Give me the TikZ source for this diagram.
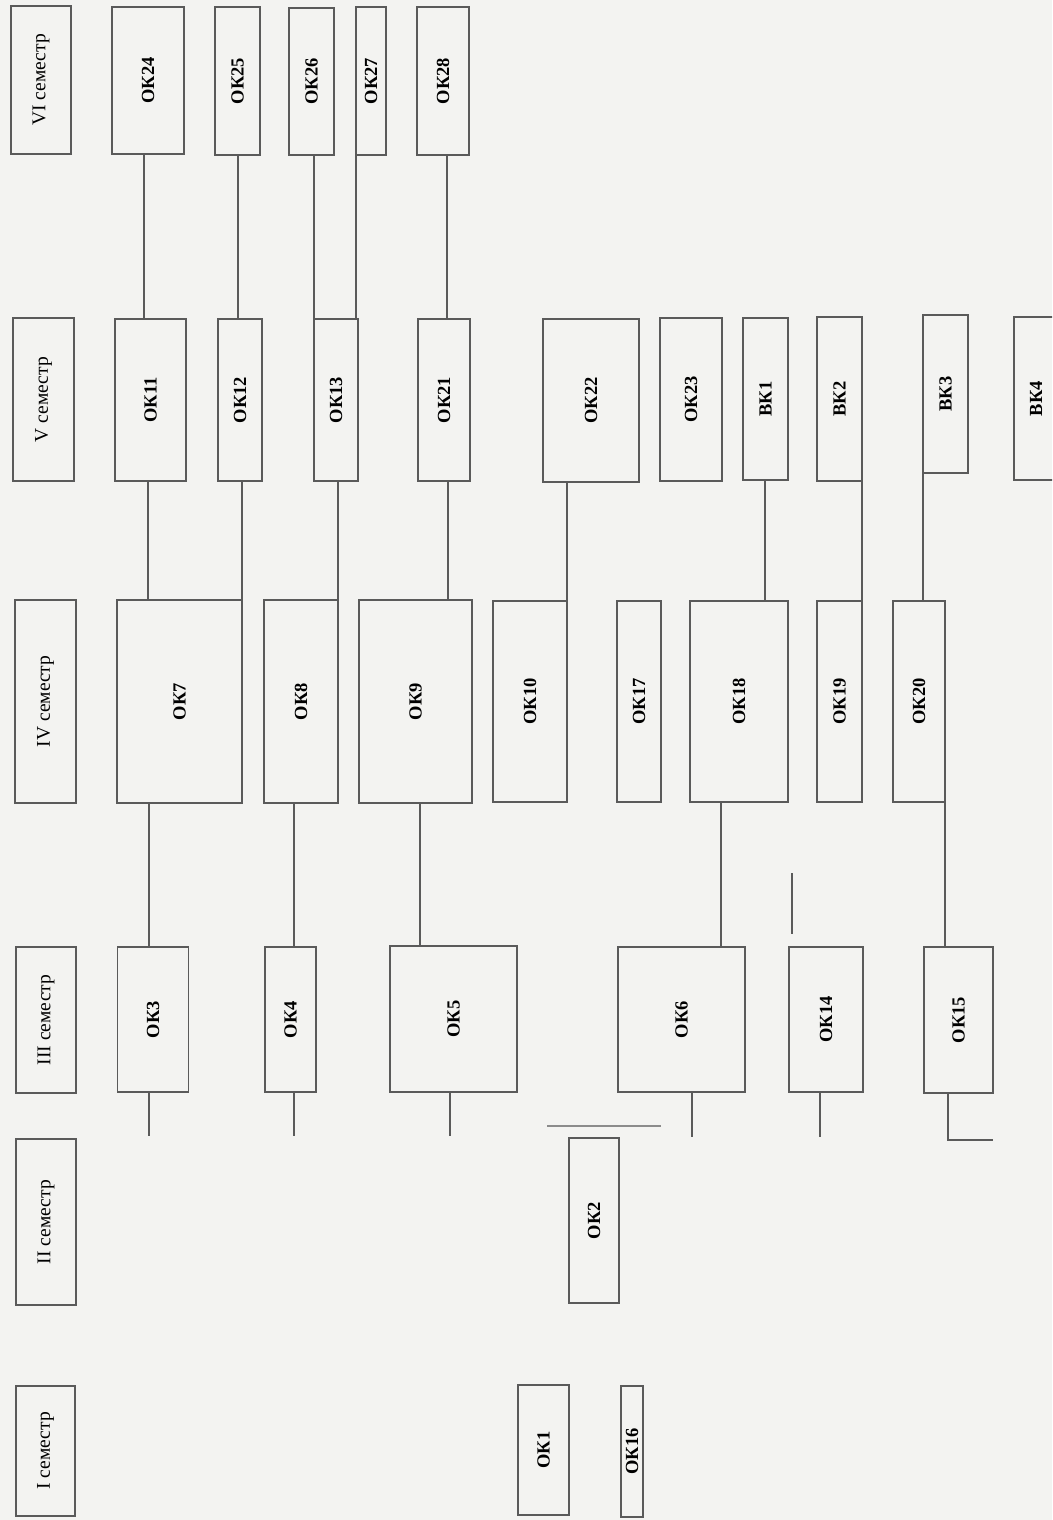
\documentclass[tikz,border=0pt]{standalone}
\usepackage{fontspec}
\setmainfont{Liberation Serif}
\usepackage{graphicx}
\definecolor{scan}{HTML}{F3F3F1}
\definecolor{ink}{HTML}{5A5A5A}

\begin{document}
\begin{tikzpicture}[x=1pt, y=-1pt,
  sembox/.style={draw=ink, line width=1.4pt, inner sep=0pt, outer sep=0pt,
                 font=\fontsize{19.5}{21}\selectfont},
  okbox/.style={draw=ink, line width=1.4pt, inner sep=0pt, outer sep=0pt,
                font=\fontsize{18.5}{20}\selectfont\bfseries},
  link/.style={ink, line width=1.4pt},
]
\useasboundingbox (0,0) rectangle (1052,1520);
\clip (0,0) rectangle (1052,1520);
\fill[scan] (0,0) rectangle (1052,1520);

\node[sembox, minimum width=60pt, minimum height=148pt] (sem6) at (41,80) {\rotatebox{90}{VI семестр}};
\node[okbox, minimum width=72pt, minimum height=147pt] (ok24) at (148,80.5) {\rotatebox{90}{ОК24}};
\node[okbox, minimum width=45pt, minimum height=148pt] (ok25) at (237.5,81) {\rotatebox{90}{ОК25}};
\node[okbox, minimum width=45pt, minimum height=147pt] (ok26) at (311.5,81.5) {\rotatebox{90}{ОК26}};
\node[okbox, minimum width=30pt, minimum height=148pt] (ok27) at (371,81) {\rotatebox{90}{ОК27}};
\node[okbox, minimum width=52pt, minimum height=148pt] (ok28) at (443,81) {\rotatebox{90}{ОК28}};

\node[sembox, minimum width=61pt, minimum height=163pt] (sem5) at (43.5,399.5) {\rotatebox{90}{V семестр}};
\node[okbox, minimum width=71pt, minimum height=162pt] (ok11) at (150.5,400) {\rotatebox{90}{ОК11}};
\node[okbox, minimum width=44pt, minimum height=162pt] (ok12) at (240,400) {\rotatebox{90}{ОК12}};
\node[okbox, minimum width=44pt, minimum height=162pt] (ok13) at (336,400) {\rotatebox{90}{ОК13}};
\node[okbox, minimum width=52pt, minimum height=162pt] (ok21) at (444,400) {\rotatebox{90}{ОК21}};
\node[okbox, minimum width=96pt, minimum height=163pt] (ok22) at (591,400.5) {\rotatebox{90}{ОК22}};
\node[okbox, minimum width=62pt, minimum height=163pt] (ok23) at (691,399.5) {\rotatebox{90}{ОК23}};
\node[okbox, minimum width=45pt, minimum height=162pt] (bk1) at (765.5,399) {\rotatebox{90}{ВК1}};
\node[okbox, minimum width=45pt, minimum height=164pt] (bk2) at (839.5,399) {\rotatebox{90}{ВК2}};
\node[okbox, minimum width=45pt, minimum height=158pt] (bk3) at (945.5,394) {\rotatebox{90}{ВК3}};
\node[okbox, minimum width=44pt, minimum height=163pt] (bk4) at (1036,398.5) {\rotatebox{90}{ВК4}};

\node[sembox, minimum width=61pt, minimum height=203pt] (sem4) at (45.5,701.5) {\rotatebox{90}{IV семестр}};
\node[okbox, minimum width=125pt, minimum height=203pt] (ok7) at (179.5,701.5) {\rotatebox{90}{ОК7}};
\node[okbox, minimum width=74pt, minimum height=203pt] (ok8) at (301,701.5) {\rotatebox{90}{ОК8}};
\node[okbox, minimum width=113pt, minimum height=203pt] (ok9) at (415.5,701.5) {\rotatebox{90}{ОК9}};
\node[okbox, minimum width=74pt, minimum height=201pt] (ok10) at (530,701.5) {\rotatebox{90}{ОК10}};
\node[okbox, minimum width=44pt, minimum height=201pt] (ok17) at (639,701.5) {\rotatebox{90}{ОК17}};
\node[okbox, minimum width=98pt, minimum height=201pt] (ok18) at (739,701.5) {\rotatebox{90}{ОК18}};
\node[okbox, minimum width=45pt, minimum height=201pt] (ok19) at (839.5,701.5) {\rotatebox{90}{ОК19}};
\node[okbox, minimum width=52pt, minimum height=201pt] (ok20) at (919,701.5) {\rotatebox{90}{ОК20}};

\node[sembox, minimum width=60pt, minimum height=146pt] (sem3) at (46,1020) {\rotatebox{90}{III семестр}};
\node[okbox, minimum width=71pt, minimum height=145pt] (ok3) at (153,1019.5) {\rotatebox{90}{ОК3}};
\node[okbox, minimum width=51pt, minimum height=145pt] (ok4) at (290.5,1019.5) {\rotatebox{90}{ОК4}};
\node[okbox, minimum width=127pt, minimum height=146pt] (ok5) at (453.5,1019) {\rotatebox{90}{ОК5}};
\node[okbox, minimum width=127pt, minimum height=145pt] (ok6) at (681.5,1019.5) {\rotatebox{90}{ОК6}};
\node[okbox, minimum width=74pt, minimum height=145pt] (ok14) at (826,1019.5) {\rotatebox{90}{ОК14}};
\node[okbox, minimum width=69pt, minimum height=146pt] (ok15) at (958.5,1020) {\rotatebox{90}{ОК15}};

\node[sembox, minimum width=60pt, minimum height=166pt] (sem2) at (46,1222) {\rotatebox{90}{II семестр}};
\node[okbox, minimum width=50pt, minimum height=165pt] (ok2) at (594,1220.5) {\rotatebox{90}{ОК2}};

\node[sembox, minimum width=59pt, minimum height=130pt] (sem1) at (45.5,1451) {\rotatebox{90}{I семестр}};
\node[okbox, minimum width=51pt, minimum height=130pt] (ok1) at (543.5,1450) {\rotatebox{90}{ОК1}};
\node[okbox, minimum width=22pt, minimum height=131pt] (ok16) at (632,1451.5) {\rotatebox{90}{ОК16}};

\draw[link] (144,0 |- ok24.south) -- (144,0 |- ok11.north);
\draw[link] (238,0 |- ok25.south) -- (238,0 |- ok12.north);
\draw[link] (ok13.north west |- ok26.south) -- (ok13.north west);
\draw[link] (ok27.south west) -- (ok27.south west |- ok13.north);
\draw[link] (447,0 |- ok28.south) -- (447,0 |- ok21.north);

\draw[link] (148,0 |- ok11.south) -- (148,0 |- ok7.north);
\draw[link] (ok7.north east |- ok12.south) -- (ok7.north east);
\draw[link] (ok8.north east |- ok13.south) -- (ok8.north east);
\draw[link] (448,0 |- ok21.south) -- (448,0 |- ok9.north);
\draw[link] (ok10.north east |- ok22.south) -- (ok10.north east);
\draw[link] (765,0 |- bk1.south) -- (765,0 |- ok18.north);
\draw[link] (bk2.south east) -- (ok19.north east);
\draw[link] (bk3.south west) -- (bk3.south west |- ok20.north);

\draw[link] (149,0 |- ok7.south) -- (149,0 |- ok3.north);
\draw[link] (294,0 |- ok8.south) -- (294,0 |- ok4.north);
\draw[link] (420,0 |- ok9.south) -- (420,0 |- ok5.north);
\draw[link] (721,0 |- ok18.south) -- (721,0 |- ok6.north);
\draw[link] (ok20.south east) -- (ok20.south east |- ok15.north);

\draw[link] (149,0 |- ok3.south) -- ++(0,44);
\draw[link] (294,0 |- ok4.south) -- ++(0,44);
\draw[link] (450,0 |- ok5.south) -- ++(0,44);
\draw[link] (692,0 |- ok6.south) -- ++(0,45);
\draw[link] (820,0 |- ok14.south) -- ++(0,45);
\draw[link] (948,0 |- ok15.south) -- ++(0,47) -| (ok15.south east |- 0,1140);

\draw[link] (792,873) -- (792,934);
\draw[link, ink!70] (547,1126) -- (661,1126);

\end{tikzpicture}
\end{document}
